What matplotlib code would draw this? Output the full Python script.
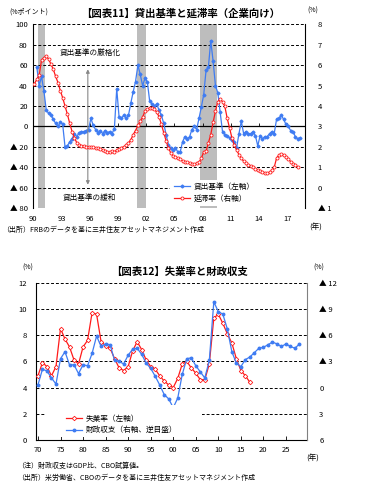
import numpy as np
import matplotlib
matplotlib.use('Agg')
import matplotlib.pyplot as plt
from matplotlib.lines import Line2D
from matplotlib.patches import Rectangle

plt.rcParams['font.family'] = ['Noto Sans CJK JP', 'DejaVu Sans']

# ---- chart 11: lending standards (net % tightening, from 1990Q2) and delinquency rate (from 1990Q1), quarterly
tight = [58, 40, 49,
         35, 16, 13, 11,   7, 3, 0, 4,   2, -20, -19, -15,   -12, -7, -10, -6,
         -5, -5, -4, -3,   8, 1, -3, -6,   -4, -7, -4, -6,   -5, -7, -2, 37,
         9, 8, 11, 8,   11, 23, 34, 44,   60, 51, 40, 47,   44, 25, 22, 20,
         22, 16, 11, 3,   -8, -18, -21, -23,   -21, -25, -25, -15,   -10, -12, -10, -3,
         0, -3, 8, 19,   31, 55, 58, 84,   64, 40, 33, 14,   -5, -8, -9, -11,
         -13, -15, -21, -7,   5, -7, -5, -7,   -7, -5, -9, -19,   -9, -12, -10, -10,
         -7, -5, -7, 7,   8, 11, 7, 2,   0, -4, -5, -10,   -12, -11]
delinq = [5.1, 5.3, 5.5, 6.25,   6.35, 6.43, 6.3, 6.05,   5.8, 5.45, 5.15, 4.75,
          4.4, 4.0, 3.6, 3.15,   2.75, 2.45, 2.2, 2.1,   2.05, 2.02, 2.0, 2.0,
          2.0, 1.98, 1.95, 1.95,   1.9, 1.85, 1.8, 1.75,   1.73, 1.78, 1.75, 1.85,
          1.9, 1.97, 2.0, 2.1,   2.2, 2.35, 2.6, 2.8,   3.05, 3.25, 3.45, 3.75,
          3.85, 3.9, 3.88, 3.85,   3.7, 3.48, 3.1, 2.7,   2.3, 1.95, 1.7, 1.55,
          1.5, 1.45, 1.42, 1.3,   1.25, 1.25, 1.2, 1.15,   1.15, 1.2, 1.25, 1.45,
          1.75, 1.78, 2.2, 2.6,   3.2, 3.75, 4.22, 4.32,   4.22, 3.98, 3.4, 2.92,
          2.45, 2.1, 1.85, 1.62,   1.45, 1.3, 1.2, 1.12,   1.05, 1.0, 0.92, 0.85,
          0.8, 0.76, 0.72, 0.7,   0.76, 0.85, 1.0, 1.45,   1.6, 1.63, 1.62, 1.52,
          1.4, 1.28, 1.18, 1.1,   1.03]
tight_start = 1990.25
delinq_start = 1990.0
recessions = [(1990.5, 1991.25), (2001.0, 2002.0), (2007.75, 2009.5)]

left1_ticks = [100, 80, 60, 40, 20, 0, -20, -40, -60, -80]
left1_labels = ['100', '80', '60', '40', '20', '0', '▲ 20', '▲ 40', '▲ 60', '▲ 80']
right1_ticks = [8, 7, 6, 5, 4, 3, 2, 1, 0, -1]
right1_labels = ['8', '7', '6', '5', '4', '3', '2', '1', '0', '▲ 1']
x1_years = [1990, 1993, 1996, 1999, 2002, 2005, 2008, 2011, 2014, 2017]
x1_labels = ['90', '93', '96', '99', '02', '05', '08', '11', '14', '17']

# ---- chart 12: unemployment rate and budget balance (% of GDP), annual
unemp_years = list(range(1970, 2018))
unemp = [4.9, 5.9, 5.6, 4.9, 5.6, 8.5, 7.7, 7.1, 6.1, 5.8,
         7.1, 7.6, 9.7, 9.6, 7.5, 7.2, 7.0, 6.2, 5.5, 5.3,
         5.6, 6.8, 7.5, 6.9, 6.1, 5.6, 5.4, 4.9, 4.5, 4.2,
         4.0, 4.7, 5.8, 6.0, 5.5, 5.1, 4.6, 4.6, 5.8, 9.3,
         9.6, 8.9, 8.1, 7.4, 6.2, 5.3, 4.9, 4.4]
bal_years = list(range(1970, 2029))
balance = [-0.3, -2.1, -1.9, -1.1, -0.4, -3.3, -4.1, -2.6, -2.6, -1.6,
           -2.6, -2.5, -3.9, -5.9, -4.7, -5.0, -4.9, -3.1, -3.0, -2.7,
           -3.7, -4.4, -4.5, -3.8, -2.8, -2.2, -1.3, -0.3, 0.8, 1.3,
           2.3, 1.2, -1.5, -3.3, -3.4, -2.5, -1.8, -1.1, -3.1, -9.8,
           -8.7, -8.4, -6.7, -4.1, -2.8, -2.4, -3.2, -3.5,
           -4.0, -4.5, -4.6, -4.9, -5.2, -5.0, -4.7, -5.0, -4.7, -4.5, -5.0]

left2_ticks = [0, 2, 4, 6, 8, 10, 12]
right2_ticks = [-12, -9, -6, -3, 0, 3, 6]
right2_labels = ['▲ 12', '▲ 9', '▲ 6', '▲ 3', '0', '3', '6']
x2_years = list(range(1970, 2030, 5))
x2_labels = ['70', '75', '80', '85', '90', '95', '00', '05', '10', '15', '20', '25']

BLUE = '#3f7cf2'
RED = '#ff1a1a'
W, H = 369, 493


def box(l, t, r, b):
    return [l / W, 1 - b / H, (r - l) / W, (b - t) / H]


fig = plt.figure(figsize=(W / 100, H / 100), dpi=100)

# ================= chart 11 =================
ax1 = fig.add_axes(box(33.3, 24.3, 305, 208.2))
ax1.set_xlim(1990, 2018.9)
ax1.set_ylim(-80, 100)
for s, e in recessions:
    ax1.axvspan(s, e, color='#bdbdbd', lw=0, zorder=0)
for v in left1_ticks:
    if v not in (0, -80):
        ax1.axhline(v, color='black', lw=0.7, ls=(0, (3, 2)), zorder=1)
ax1.axhline(0, color='black', lw=0.9, zorder=1)
ax1.vlines(x1_years[1:], 0, 3, color='black', lw=0.6, zorder=1)

tx = tight_start + np.arange(len(tight)) / 4 + 0.125
ax1.plot(tx, tight, color=BLUE, lw=0.9, marker='D', ms=1.5, zorder=3)

ax1.annotate('', xy=(1995.8, 56), xytext=(1995.8, -57),
             arrowprops=dict(arrowstyle='<|-|>', color='#888888', lw=0.8,
                             mutation_scale=5, shrinkA=0, shrinkB=0))
ax1.text(1996.1, 72, '貸出基準の厳格化', fontsize=5.5, ha='center', va='center')
ax1.text(1996.0, -70, '貸出基準の緩和', fontsize=5.5, ha='center', va='center')

ax1.set_yticks(left1_ticks, left1_labels)
ax1.set_xticks(x1_years, x1_labels)
ax1.tick_params(axis='y', length=0, labelsize=5.5, pad=4)
ax1.tick_params(axis='x', length=0, labelsize=5.5, pad=5)
for sp in ['top', 'bottom', 'right']:
    ax1.spines[sp].set_visible(False)
ax1.spines['left'].set_linewidth(0.8)

ax2 = ax1.twinx()
ax2.set_ylim(-1, 8)
dx = delinq_start + np.arange(len(delinq)) / 4 + 0.125
ax2.plot(dx, delinq, color=RED, lw=0.9, marker='o', ms=2.2, mfc='white', mew=0.6, zorder=3)
ax2.set_yticks(right1_ticks, right1_labels)
ax2.tick_params(axis='y', length=0, labelsize=5.5, pad=9)
for sp in ['top', 'bottom', 'left']:
    ax2.spines[sp].set_visible(False)
ax2.spines['right'].set_linewidth(0.8)

ax2.add_patch(Rectangle(((170 - 33.3) / 271.7, (208.2 - 206) / 183.9), 96 / 271.7, 26 / 183.9,
                        transform=ax2.transAxes, facecolor='white', edgecolor='none', zorder=4))
h1 = [Line2D([], [], color=BLUE, lw=0.9, marker='D', ms=1.5),
      Line2D([], [], color=RED, lw=0.9, marker='o', ms=2.2, mfc='white', mew=0.6)]
leg = ax2.legend(h1, ['貸出基準（左軸）', '延滞率（右軸）'], loc='upper left',
                 bbox_to_anchor=((172 - 33.3) / 271.7, (208.2 - 181) / 183.9),
                 borderaxespad=0, borderpad=0.2, frameon=False, fontsize=5.5,
                 handlelength=2.2, handletextpad=0.4, labelspacing=0.5)
leg.set_zorder(5)

fig.text(181 / W, 1 - 13 / H, '【図表11】貸出基準と延滞率（企業向け）', fontsize=7.5,
         fontweight='bold', ha='center', va='center')
fig.text(9 / W, 1 - 12 / H, '(%ポイント)', fontsize=5, ha='left', va='center')
fig.text(307 / W, 1 - 11 / H, '(%)', fontsize=5, ha='left', va='center')
fig.text(309 / W, 1 - 228 / H, '(年)', fontsize=5.5, ha='left', va='center')
fig.text(2 / W, 1 - 230 / H, '（出所）FRBのデータを基に三井住友アセットマネジメント作成',
         fontsize=5, ha='left', va='center')

# ================= chart 12 =================
ax3 = fig.add_axes(box(35.7, 282.7, 306.7, 440))
ax3.set_xlim(1969.5, 2029.6)
ax3.set_ylim(0, 12)
for v in left2_ticks[1:]:
    ax3.axhline(v, color='black', lw=0.7, ls=(0, (3, 2)), zorder=1)
ax3.plot(unemp_years, unemp, color=RED, lw=0.9, marker='D', ms=2.3, mfc='white', mew=0.6, zorder=3)
ax3.set_yticks(left2_ticks)
ax3.set_xticks(x2_years, x2_labels)
ax3.tick_params(axis='y', length=0, labelsize=5.5, pad=6)
ax3.tick_params(axis='x', direction='in', length=3, width=0.6, labelsize=5.5, pad=4)
ax3.spines['top'].set_visible(False)
ax3.spines['right'].set_visible(False)
ax3.spines['left'].set_linewidth(0.8)
ax3.spines['bottom'].set_linewidth(0.8)

ax4 = ax3.twinx()
ax4.set_ylim(6, -12)
ax4.plot(bal_years, balance, color=BLUE, lw=0.9, marker='o', ms=1.8, zorder=3)
ax4.set_yticks(right2_ticks, right2_labels)
ax4.tick_params(axis='y', length=0, labelsize=5.5, pad=9)
for sp in ['top', 'bottom', 'left']:
    ax4.spines[sp].set_visible(False)
ax4.spines['right'].set_color('#808080')
ax4.spines['right'].set_linewidth(0.8)

ax4.add_patch(Rectangle(((45 - 35.7) / 271, (440 - 437) / 157.3), 157 / 271, 32 / 157.3,
                        transform=ax4.transAxes, facecolor='white', edgecolor='none', zorder=4))
h2 = [Line2D([], [], color=RED, lw=0.9, marker='D', ms=2.3, mfc='white', mew=0.6),
      Line2D([], [], color=BLUE, lw=0.9, marker='o', ms=1.8)]
leg2 = ax4.legend(h2, ['失業率（左軸）', '財政収支（右軸、逆目盛）'], loc='upper left',
                  bbox_to_anchor=((64 - 35.7) / 271, (440 - 413) / 157.3),
                  borderaxespad=0, borderpad=0.2, frameon=False, fontsize=5.5,
                  handlelength=2.2, handletextpad=0.4, labelspacing=0.5)
leg2.set_zorder(5)

fig.text(180 / W, 1 - 272 / H, '【図表12】失業率と財政収支', fontsize=7.5,
         fontweight='bold', ha='center', va='center')
fig.text(22 / W, 1 - 268 / H, '(%)', fontsize=5, ha='left', va='center')
fig.text(313 / W, 1 - 268 / H, '(%)', fontsize=5, ha='left', va='center')
fig.text(306 / W, 1 - 459 / H, '(年)', fontsize=5.5, ha='left', va='center')
fig.text(17 / W, 1 - 466 / H, '（注）財政収支はGDP比、CBO試算値。', fontsize=5, ha='left', va='center')
fig.text(17 / W, 1 - 478 / H, '（出所）米労働省、CBOのデータを基に三井住友アセットマネジメント作成',
         fontsize=5, ha='left', va='center')

fig.savefig('out.png', dpi=100)
